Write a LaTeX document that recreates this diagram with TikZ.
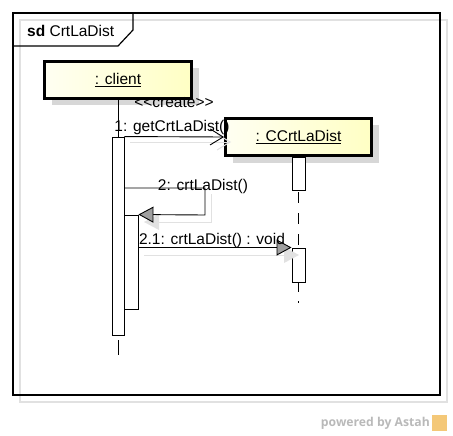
\documentclass[tikz,border=0pt]{standalone}
\usepackage{fontspec}
\newfontfamily\lblfont{Liberation Sans}
\newfontfamily\astahfont{Open Sans}
\usetikzlibrary{arrows.meta,shadows}
\definecolor{boxL}{RGB}{255,255,242}
\definecolor{boxR}{RGB}{255,255,196}
\definecolor{shadowgray}{RGB}{215,215,215}
\definecolor{lightline}{RGB}{225,225,225}
\definecolor{astahgray}{RGB}{185,185,185}
\definecolor{astahlogo}{RGB}{244,200,120}
\begin{document}
\begin{tikzpicture}[x=1pt,y=-1pt,
  txt/.style={font=\lblfont\fontsize{15.5}{18}\selectfont, inner sep=0pt},
  lifebox/.style={draw=black, line width=3pt, inner sep=0pt,
    left color=boxL, right color=boxR,
    drop shadow={shadow xshift=7pt, shadow yshift=-7pt, fill=shadowgray, opacity=1},
    font=\lblfont\fontsize{15.5}{18}\selectfont},
  actbar/.style={draw=black, fill=white, line width=0.9pt, inner sep=0pt},
  lifeline/.style={draw=black, line width=0.9pt},
  msg/.style={draw=black, line width=0.9pt},
  shadowmsg/.style={draw=lightline, line width=1pt},
  opentip/.style={-{Straight Barb[length=13pt,width=16pt,line width=0.9pt]}},
  filltip/.style={-{Triangle[length=15pt,width=16pt,fill=gray!75]}},
  frameline/.style={draw=black, line width=1.2pt}
]
\useasboundingbox (0,0) rectangle (453,436);
% frame with its shadow outline
\draw[lightline, line width=1.2pt] (20,20) rectangle (447,402);
\draw[frameline] (13,13) rectangle (440,395);
\draw[frameline] (13,46) -- (118,46) -- (133,30) -- (133,13);
\node[txt, anchor=base west] (title) at (27,36.5) {\bfseries sd\mdseries\ CrtLaDist};

% lifeline heads
\node[lifebox, minimum width=147pt, minimum height=37pt] (client) at (118,80) {\underline{: client}};
\node[lifebox, minimum width=146pt, minimum height=37pt] (ccrt) at (298.5,137) {\underline{: CCrtLaDist}};

% lifeline ends
\coordinate (cend) at (118,356);
\coordinate (dend) at (298.5,304);

% lifelines
\draw[lifeline] (client.south) -- (118,137) coordinate (act1top);
\draw[lifeline, dash pattern=on 11pt off 10pt, dash phase=19pt] (298.5,190) -- (298.5,248);
\draw[lifeline, dash pattern=on 0pt off 5pt on 15pt off 20pt] (118,335) -- (cend);
\draw[lifeline, dash pattern=on 0pt off 1pt on 9pt off 9pt on 2pt off 20pt] (298.5,282) -- (dend);

% activation bars
\node[actbar, minimum width=12pt, minimum height=198pt] (act1) at (118,236) {};
\node[actbar, minimum width=14pt, minimum height=94pt] (act2) at (131,262) {};
\node[actbar, minimum width=13pt, minimum height=33pt] (act3) at (298.5,173.5) {};
\node[actbar, minimum width=13pt, minimum height=34pt] (act4) at (298.5,265) {};

% message shadows
\draw[shadowmsg, -{Straight Barb[length=13pt,width=16pt,line width=1pt]}] (130,142) -- (231,142);
\draw[shadowmsg] (211,194) -- (211,222) -- (158,222);
\fill[lightline] (144,222) -- (159,214) -- (159,230) -- cycle;
\draw[shadowmsg] (144,255) -- (284,255);
\fill[lightline] (299,255) -- (284,247) -- (284,263) -- cycle;

% messages
\coordinate (loop1) at (205,188);
\coordinate (loop2) at (205,215);
\draw[msg, opentip] (act1.north east) -- (ccrt.west);
\draw[msg, filltip] (act1.east |- loop1) -- (loop1) -- (loop2) -- (act2.north east);
\draw[msg, filltip] (act2.east |- act4.north) -- (act4.north west);

% message labels
\node[txt, anchor=base] (lcreate) at (174,108) {<<create>>};
\node[txt, anchor=base] (l1) at (172,131.5) {1: getCrtLaDist()};
\node[txt, anchor=base] (l2) at (203,190.5) {2: crtLaDist()};
\node[txt, anchor=base] (l21) at (212,244) {2.1: crtLaDist() : void};

% watermark
\node[font=\astahfont\bfseries\fontsize{12.2}{14}\selectfont, text=astahgray, inner sep=0pt, anchor=base east] (astah) at (430,426) {powered by Astah};
\fill[astahlogo] (432,415) rectangle (447,431);
\end{tikzpicture}
\end{document}
